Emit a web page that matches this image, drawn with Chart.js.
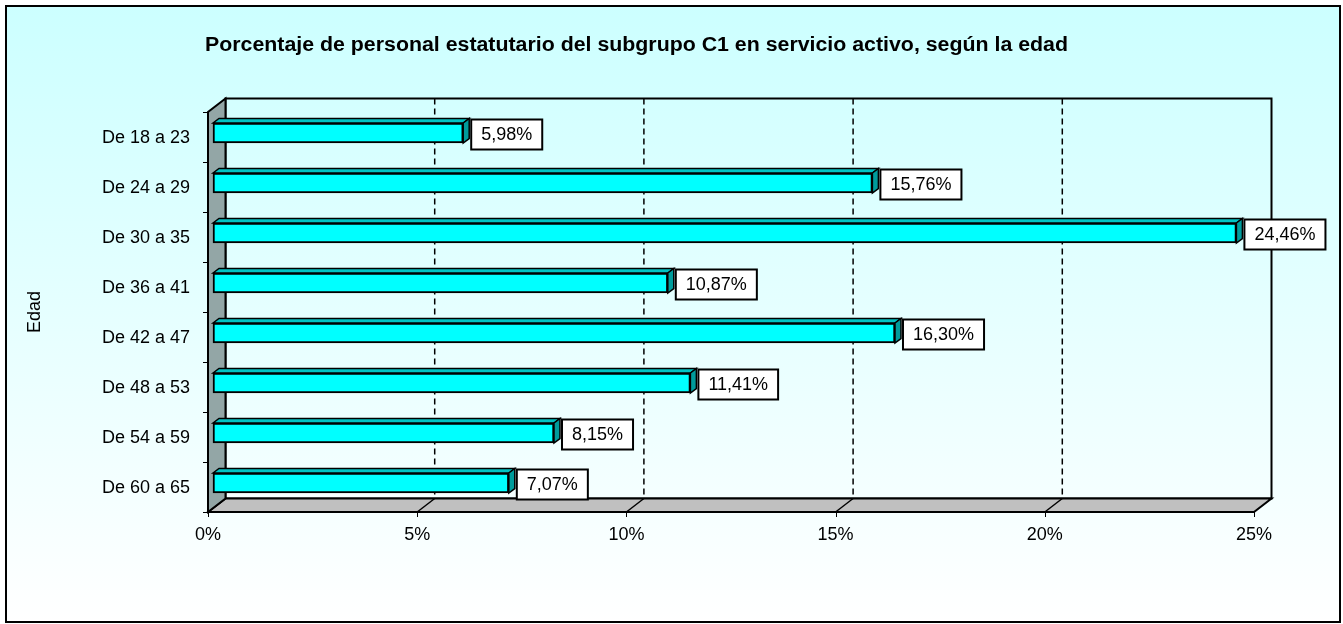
<!DOCTYPE html>
<html>
<head>
<meta charset="utf-8">
<script src="https://cdn.jsdelivr.net/npm/chart.js@4/dist/chart.umd.min.js"></script>
<style>
  html, body { margin: 0; padding: 0; background: #fff; }
  canvas { display: block; }
</style>
</head>
<body>
<canvas id="grafico" width="1343" height="624" style="width:1343px;height:624px"></canvas>
<script>
// Datos del gráfico
const titulo = 'Porcentaje de personal estatutario del subgrupo C1 en servicio activo, según la edad';
const tituloEje = 'Edad';
const edades = ['De 18 a 23', 'De 24 a 29', 'De 30 a 35', 'De 36 a 41', 'De 42 a 47', 'De 48 a 53', 'De 54 a 59', 'De 60 a 65'];
const porcentajes = [5.98, 15.76, 24.46, 10.87, 16.30, 11.41, 8.15, 7.07];
const ticksX = [0, 5, 10, 15, 20, 25];

const fuente = '"Liberation Sans", Arial, sans-serif';
const prof = { dx: 17.5, dy: -13.5 };   // profundidad de las paredes
const desp = { dx: 5, dy: -4 };         // desplazamiento de las barras
const profBarra = { dx: 6, dy: -4.5 };  // grosor 3D de las barras

function formato(v) {
    return v.toFixed(2).replace('.', ',') + '%';
}

// Fondo, paredes, suelo, ejes y textos
const escena3d = {
    id: 'escena3d',
    beforeDraw(chart) {
        const ctx = chart.ctx;
        const area = chart.chartArea;
        const sx = chart.scales.x;
        const sy = chart.scales.y;
        ctx.save();

        // fondo degradado y marco
        const grad = ctx.createLinearGradient(0, 6, 0, 622);
        grad.addColorStop(0, '#ccffff');
        grad.addColorStop(1, '#ffffff');
        ctx.fillStyle = grad;
        ctx.fillRect(6, 6, 1334, 616);
        ctx.strokeStyle = '#000';
        ctx.lineWidth = 2;
        ctx.strokeRect(6, 6, 1334, 616);

        // título (el original sale algo ensanchado)
        ctx.fillStyle = '#000';
        ctx.font = 'bold 20px ' + fuente;
        ctx.textAlign = 'center';
        ctx.textBaseline = 'alphabetic';
        const wt = ctx.measureText(titulo).width;
        ctx.save();
        ctx.translate(636.5, 51);
        ctx.scale(863 / wt, 1);
        ctx.fillText(titulo, 0, 0);
        ctx.restore();

        const L = area.left, R = area.right, T = area.top, B = area.bottom;
        const bx = prof.dx, by = prof.dy;

        // pared del fondo
        ctx.lineWidth = 2;
        ctx.strokeStyle = '#000';
        ctx.strokeRect(L + bx, T + by, R - L, B - T);

        // líneas de división discontinuas
        ctx.lineWidth = 1.5;
        ctx.setLineDash([6, 4]);
        ticksX.slice(1, -1).forEach(v => {
            const x = sx.getPixelForValue(v) + bx;
            ctx.beginPath();
            ctx.moveTo(x, T + by);
            ctx.lineTo(x, B + by);
            ctx.stroke();
        });
        ctx.setLineDash([]);

        // suelo
        ctx.fillStyle = '#c0c0c0';
        ctx.beginPath();
        ctx.moveTo(L, B);
        ctx.lineTo(R, B);
        ctx.lineTo(R + bx, B + by);
        ctx.lineTo(L + bx, B + by);
        ctx.closePath();
        ctx.fill();
        ctx.lineWidth = 1.5;
        ticksX.slice(1, -1).forEach(v => {
            const x = sx.getPixelForValue(v);
            ctx.beginPath();
            ctx.moveTo(x, B);
            ctx.lineTo(x + bx, B + by);
            ctx.stroke();
        });
        ctx.lineWidth = 2;
        ctx.beginPath();
        ctx.moveTo(L, B);
        ctx.lineTo(R, B);
        ctx.lineTo(R + bx, B + by);
        ctx.lineTo(L + bx, B + by);
        ctx.closePath();
        ctx.stroke();

        // pared izquierda
        ctx.fillStyle = '#93a6a6';
        ctx.beginPath();
        ctx.moveTo(L, B);
        ctx.lineTo(L, T);
        ctx.lineTo(L + bx, T + by);
        ctx.lineTo(L + bx, B + by);
        ctx.closePath();
        ctx.fill();
        ctx.stroke();

        // marcas del eje de categorías
        ctx.lineWidth = 1;
        for (let i = 0; i <= edades.length; i++) {
            const y = Math.round(T + i * (B - T) / edades.length) + 0.5;
            ctx.beginPath();
            ctx.moveTo(L - 5, y);
            ctx.lineTo(L, y);
            ctx.stroke();
        }
        // marcas del eje de valores
        ticksX.forEach(v => {
            const x = Math.round(sx.getPixelForValue(v)) + 0.5;
            ctx.beginPath();
            ctx.moveTo(x, B);
            ctx.lineTo(x, B + 5);
            ctx.stroke();
        });

        // etiquetas de categorías
        ctx.fillStyle = '#000';
        ctx.font = '18px ' + fuente;
        ctx.textAlign = 'right';
        ctx.textBaseline = 'middle';
        edades.forEach((e, i) => {
            ctx.fillText(e, 190, sy.getPixelForTick(i) + 1);
        });

        // etiquetas del eje X
        ctx.textAlign = 'center';
        ctx.font = '18px ' + fuente;
        ticksX.forEach(v => {
            ctx.fillText(v + '%', sx.getPixelForValue(v), 535);
        });

        // título del eje
        ctx.font = '18px ' + fuente;
        ctx.translate(35, 312);
        ctx.rotate(-Math.PI / 2);
        ctx.fillText(tituloEje, 0, 0);

        ctx.restore();
    },
    beforeDatasetsDraw(chart) {
        chart.ctx.save();
        chart.ctx.translate(desp.dx, desp.dy);
    },
    afterDatasetsDraw(chart) {
        const ctx = chart.ctx;
        const meta = chart.getDatasetMeta(0);
        ctx.lineWidth = 1.5;
        ctx.strokeStyle = '#000';
        meta.data.forEach(bar => {
            const x0 = bar.base, x1 = bar.x;
            const top = bar.y - bar.height / 2, bottom = bar.y + bar.height / 2;
            const dx = profBarra.dx, dy = profBarra.dy;
            // cara superior
            ctx.fillStyle = '#00c4c4';
            ctx.beginPath();
            ctx.moveTo(x0, top);
            ctx.lineTo(x0 + dx, top + dy);
            ctx.lineTo(x1 + dx, top + dy);
            ctx.lineTo(x1, top);
            ctx.closePath();
            ctx.fill();
            ctx.stroke();
            // cara lateral
            ctx.fillStyle = '#009c9c';
            ctx.beginPath();
            ctx.moveTo(x1, top);
            ctx.lineTo(x1 + dx, top + dy);
            ctx.lineTo(x1 + dx, bottom + dy);
            ctx.lineTo(x1, bottom);
            ctx.closePath();
            ctx.fill();
            ctx.stroke();
        });
        ctx.restore();

        // etiquetas de datos
        ctx.save();
        ctx.font = '18px ' + fuente;
        ctx.textBaseline = 'middle';
        ctx.textAlign = 'center';
        meta.data.forEach((bar, i) => {
            const txt = formato(porcentajes[i]);
            const w = ctx.measureText(txt).width + 20;
            const h = 30;
            const x = bar.x + desp.dx + 8;
            const y = bar.y + desp.dy + 1.5 - h / 2;
            ctx.fillStyle = '#fff';
            ctx.fillRect(x, y, w, h);
            ctx.lineWidth = 2;
            ctx.strokeStyle = '#000';
            ctx.strokeRect(x, y, w, h);
            ctx.fillStyle = '#000';
            ctx.fillText(txt, x + w / 2, y + h / 2 + 1);
        });
        ctx.restore();
    }
};

const ctx = document.getElementById('grafico').getContext('2d');
const grafico = new Chart(ctx, {
    type: 'bar',
    data: {
        labels: edades,
        datasets: [{
            data: porcentajes,
            backgroundColor: '#00ffff',
            borderColor: '#000',
            borderWidth: 2,
            borderSkipped: false,
            barThickness: 20,
            clip: false
        }]
    },
    options: {
        indexAxis: 'y',
        responsive: false,
        animation: false,
        events: [],
        layout: {
            padding: { left: 208, top: 112, right: 89, bottom: 112 }
        },
        scales: {
            x: { min: 0, max: 25, display: false },
            y: { display: false, offset: true }
        },
        plugins: {
            legend: { display: false },
            tooltip: { enabled: false }
        }
    },
    plugins: [escena3d]
});
</script>
</body>
</html>
